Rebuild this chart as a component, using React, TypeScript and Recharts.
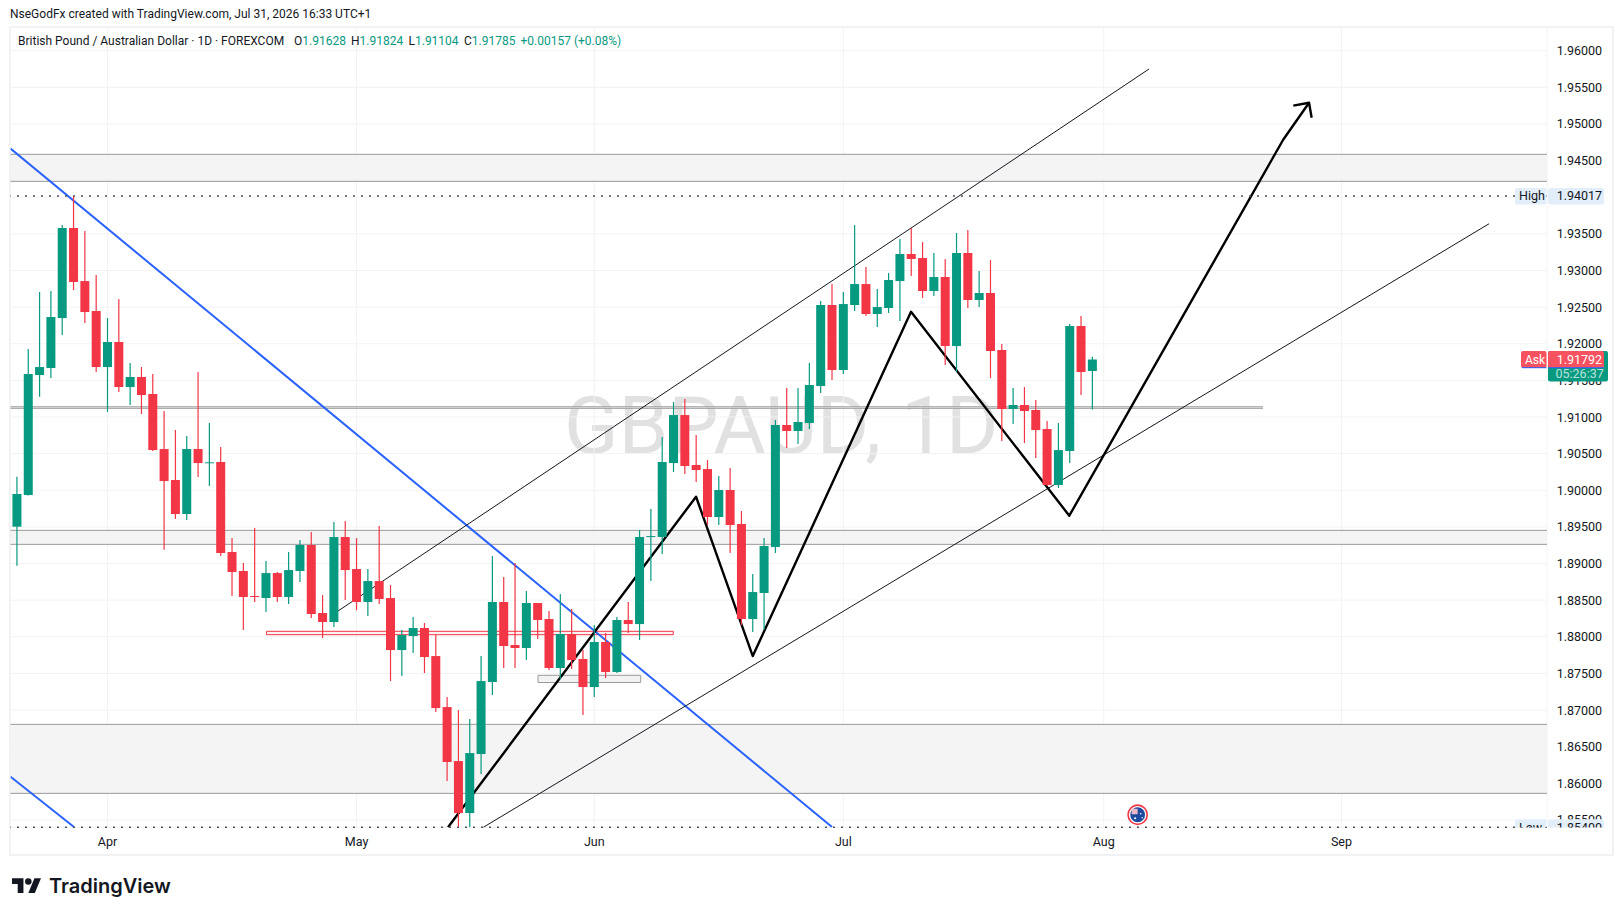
import React from 'react';
import {
  ComposedChart,
  Bar,
  Line,
  XAxis,
  YAxis,
  CartesianGrid,
  ReferenceArea,
  ReferenceLine,
  ReferenceDot,
} from 'recharts';

// daily GBPAUD candles, first one is 8 sessions before Apr 1 (session 0)
const firstSession = -8;
const opens = [
  1.89503, 1.89935, 1.91573, 1.91669, 1.92351, 1.9358, 1.92856, 1.92447, 1.91682, 1.92024, 1.91409, 1.91546,
  1.91314, 1.90563, 1.9014, 1.89676, 1.90563, 1.90375, 1.90386, 1.89157, 1.88898, 1.88557, 1.88529, 1.8887,
  1.88543, 1.88898, 1.89253, 1.88325, 1.88202, 1.89362, 1.88925, 1.88475, 1.88761, 1.88529, 1.87819, 1.8801,
  1.8812, 1.87737, 1.87041, 1.86304, 1.85594, 1.864, 1.87383, 1.88475, 1.87888, 1.87847, 1.88461, 1.88243,
  1.87574, 1.88038, 1.87697, 1.87314, 1.87929, 1.87519, 1.88229, 1.88174, 1.89368, 1.89362, 1.90372, 1.91027,
  1.90345, 1.9029, 1.89635, 1.90004, 1.8954, 1.88243, 1.88598, 1.89226, 1.90891, 1.90809, 1.90918, 1.91423,
  1.92529, 1.91642, 1.92529, 1.92815, 1.92406, 1.92488, 1.92856, 1.93225, 1.9317, 1.9272, 1.92911, 1.91969,
  1.93239, 1.92597, 1.92693, 1.91915, 1.91109, 1.91164, 1.91096, 1.90836, 1.90072, 1.90536, 1.92242, 1.91628,
];
const highs = [
  1.90185, 1.91928, 1.92706, 1.9272, 1.93621, 1.94017, 1.93539, 1.92938, 1.92351, 1.92611, 1.91737, 1.91682,
  1.91587, 1.91082, 1.90822, 1.90741, 1.91614, 1.90918, 1.90591, 1.89348, 1.89007, 1.89485, 1.89034, 1.88884,
  1.89157, 1.89321, 1.89429, 1.8857, 1.89567, 1.89581, 1.89348, 1.88925, 1.89512, 1.88707, 1.88093, 1.8827,
  1.88188, 1.88024, 1.87178, 1.87, 1.86878, 1.87737, 1.89103, 1.88816, 1.89007, 1.88625, 1.88461, 1.88352,
  1.88584, 1.88379, 1.8782, 1.88161, 1.88052, 1.8827, 1.88475, 1.89458, 1.89744, 1.90727, 1.91205, 1.91246,
  1.90754, 1.90413, 1.90195, 1.90304, 1.89717, 1.88857, 1.89348, 1.90959, 1.91396, 1.91396, 1.91737, 1.92583,
  1.92815, 1.92706, 1.93621, 1.93048, 1.92747, 1.92965, 1.9343, 1.9358, 1.93389, 1.93239, 1.93157, 1.93512,
  1.93553, 1.92993, 1.93143, 1.91996, 1.91396, 1.91409, 1.91232, 1.90946, 1.90918, 1.9227, 1.92379, 1.91824,
];
const lows = [
  1.8897, 1.8993, 1.91277, 1.91532, 1.92119, 1.92734, 1.92283, 1.91614, 1.91068, 1.91341, 1.91164, 1.91041,
  1.90536, 1.89189, 1.89608, 1.89594, 1.9018, 1.90058, 1.89103, 1.88557, 1.88092, 1.88475, 1.88338, 1.88475,
  1.88447, 1.88748, 1.88256, 1.87983, 1.88134, 1.88502, 1.88365, 1.88284, 1.88447, 1.87396, 1.87465, 1.87778,
  1.87505, 1.86973, 1.86031, 1.8541, 1.854, 1.86127, 1.87205, 1.87574, 1.87574, 1.87683, 1.8797, 1.87547,
  1.87424, 1.8756, 1.86932, 1.87178, 1.87437, 1.87505, 1.88052, 1.87956, 1.88761, 1.8913, 1.90249, 1.90222,
  1.90112, 1.89526, 1.89526, 1.89144, 1.88161, 1.88065, 1.88093, 1.89144, 1.90577, 1.90631, 1.90836, 1.91328,
  1.91505, 1.91587, 1.92447, 1.92379, 1.92228, 1.9242, 1.9231, 1.92925, 1.92624, 1.92652, 1.9171, 1.91614,
  1.92488, 1.92501, 1.91532, 1.90672, 1.90904, 1.90645, 1.9044, 1.90058, 1.90031, 1.90372, 1.913, 1.91104,
];
const closes = [
  1.89949, 1.91587, 1.91682, 1.92365, 1.9358, 1.92843, 1.92433, 1.91682, 1.92024, 1.91409, 1.91546, 1.913,
  1.90549, 1.90126, 1.89676, 1.90563, 1.90372, 1.90382, 1.89144, 1.88884, 1.88543, 1.8855, 1.8887, 1.88543,
  1.88911, 1.89253, 1.88311, 1.88202, 1.89362, 1.88911, 1.88475, 1.88761, 1.88516, 1.87819, 1.88024, 1.8812,
  1.87724, 1.87027, 1.86291, 1.85594, 1.86413, 1.87396, 1.88475, 1.87874, 1.87847, 1.88461, 1.88229, 1.87574,
  1.88038, 1.87683, 1.87314, 1.87929, 1.87519, 1.88229, 1.88174, 1.89362, 1.89375, 1.90386, 1.91027, 1.90331,
  1.90277, 1.89635, 1.90004, 1.89526, 1.88243, 1.88611, 1.89239, 1.90891, 1.90809, 1.90932, 1.91437, 1.92529,
  1.91642, 1.92542, 1.92815, 1.92406, 1.92501, 1.9287, 1.93225, 1.93157, 1.9272, 1.92911, 1.91969, 1.93239,
  1.92597, 1.92693, 1.91901, 1.91109, 1.91164, 1.91082, 1.90822, 1.90072, 1.90549, 1.92242, 1.91614, 1.91785,
];

const candles = opens.map((open, i) => ({
  idx: firstSession + i,
  open,
  high: highs[i],
  low: lows[i],
  close: closes[i],
}));

const priceTicks = [
  1.96, 1.955, 1.95, 1.945, 1.94, 1.935, 1.93, 1.925, 1.92, 1.915, 1.91, 1.905, 1.9, 1.895, 1.89, 1.885, 1.88, 1.875,
  1.87, 1.865, 1.86, 1.855,
];
const monthTicks = [0, 22, 43, 65, 88, 109];
const monthLabels = ['Apr', 'May', 'Jun', 'Jul', 'Aug', 'Sep'];

const highPrice = 1.94017;
const lowPrice = 1.854;
const askPrice = 1.91792;

// visible range of the pane
const sessionRange: [number, number] = [-8.569, 127.16];
const priceRange: [number, number] = [1.85397, 1.96317];

// drawings, as [session, price] anchors
const blueTrend = [[-8.569, 1.94665], [64.0, 1.85403]];
const blueTrendLower = [[-8.569, 1.8609], [-2.96, 1.85404]];
const channelUpper = [[20.1, 1.88325], [92.0, 1.9575]];
const channelLower = [[33.2, 1.854], [122.04, 1.93638]];
const zigzag = [
  [30.08, 1.854], [51.99, 1.89912], [57.0, 1.87737], [70.98, 1.92437], [84.96, 1.89653], [103.84, 1.94781], [106.14, 1.9529],
];
const arrowHead = [[104.75, 1.9525], [106.14, 1.9529], [106.37, 1.95085]];

const toPoints = (rows: number[][]) => rows.map(([idx, price]) => ({ idx, price }));

const grayZones = [
  { top: 1.94586, bottom: 1.94217, end: sessionRange[1] },
  { top: 1.9114, bottom: 1.91119, end: 102.08 },
  { top: 1.89453, bottom: 1.89262, end: sessionRange[1] },
  { top: 1.86805, bottom: 1.85863, end: sessionRange[1] },
];

const UI_FONT = 'Roboto, sans-serif';
const UI_SIZE = 12.5;
const HEAD_SIZE = 12;
const GREEN = '#089981';
const RED = '#f23645';
const TEXT = '#131722';
const CHART_MARGIN = { top: 27.5, right: 11, bottom: 60.5, left: 10.5 };

const Candle = (props: any) => {
  const { x, y, width, height, payload } = props;
  const { open, close, high, low } = payload;
  const perPrice = height / (high - low);
  const bodyTop = y + (high - Math.max(open, close)) * perPrice;
  const bodyHeight = Math.max(Math.abs(open - close) * perPrice, 1);
  const color = close >= open ? GREEN : RED;
  const cx = x + width / 2;
  return (
    <g>
      <line x1={cx} x2={cx} y1={y} y2={y + height} stroke={color} strokeWidth={1.2} />
      <rect x={cx - 4.5} y={bodyTop} width={9} height={bodyHeight} fill={color} />
    </g>
  );
};

// zones only show their top and bottom edges, the sides run off the pane
const GrayZone = ({ x, y, width, height }: any) => (
  <g>
    <rect x={x} y={y} width={width} height={height} fill="#f2f2f2" fillOpacity={0.85} />
    <line x1={x} x2={x + width} y1={y} y2={y} stroke="#9a9a9a" />
    <line x1={x} x2={x + width} y1={y + height} y2={y + height} stroke="#9a9a9a" />
  </g>
);

const PriceTick = (props: any) => {
  const { x, y, payload } = props;
  // the High tag sits right on top of this one
  if (payload.value === 1.94) return null;
  return (
    <text x={x} y={y} dy={4.5} fontFamily={UI_FONT} fontSize={UI_SIZE} fill={TEXT} textAnchor="start" clipPath="url(#paneClip)">
      {payload.value.toFixed(5)}
    </text>
  );
};

const TimeTick = (props: any) => {
  const { x, y, payload } = props;
  return (
    <text x={x} y={y} dy={10} fontFamily={UI_FONT} fontSize={UI_SIZE} fill={TEXT} textAnchor="middle">
      {monthLabels[monthTicks.indexOf(payload.value)]}
    </text>
  );
};

const ExtremeTag = ({ viewBox, name, value }: any) => {
  const right = viewBox.x + viewBox.width;
  const y = viewBox.y;
  return (
    <g clipPath="url(#tagClip)">
      <rect x={right - 32} y={y - 8} width={31.5} height={16.5} rx={2} fill="#e3eefb" />
      <rect x={right + 1} y={y - 8} width={56} height={16.5} rx={2} fill="#e3eefb" />
      <text x={right - 28} y={y + 4.5} fontFamily={UI_FONT} fontSize={UI_SIZE} fill={TEXT}>{name}</text>
      <text x={right + 9.7} y={y + 4.5} fontFamily={UI_FONT} fontSize={UI_SIZE} fill={TEXT}>{value}</text>
    </g>
  );
};

const AskTag = ({ viewBox }: any) => {
  const right = viewBox.x + viewBox.width;
  const y = viewBox.y;
  return (
    <g>
      <rect x={right + 1} y={y - 8} width={60} height={30.5} rx={2} fill={GREEN} />
      <rect x={right - 26} y={y - 8} width={25.5} height={17} rx={2} fill="#f7525f" />
      <rect x={right + 1} y={y - 8} width={56} height={17} rx={2} fill="#f7525f" />
      <rect x={right - 25} y={y + 8.2} width={24.5} height={1} fill="#2962ff" />
      <rect x={right + 1} y={y + 8.2} width={56} height={1} fill="#2962ff" />
      <text x={right - 22} y={y + 4.5} fontFamily={UI_FONT} fontSize={12} fill="#fff">Ask</text>
      <text x={right + 9.7} y={y + 4.5} fontFamily={UI_FONT} fontSize={UI_SIZE} fill="#fff">{askPrice.toFixed(5)}</text>
      <text x={right + 8.5} y={y + 19} fontFamily={UI_FONT} fontSize={UI_SIZE} fill="#b9e3da">05:26:37</text>
    </g>
  );
};

const FlagEvent = ({ cx, cy }: any) => (
  <g>
    <circle cx={cx} cy={cy} r={9.6} fill="#fff" stroke={RED} strokeWidth={1.6} />
    <circle cx={cx} cy={cy} r={7.4} fill="#1c4aa0" />
    <rect x={cx - 6} y={cy - 6} width={6} height={5.5} fill="#e9b8c4" />
    <circle cx={cx + 3} cy={cy - 1} r={0.8} fill="#fff" />
    <circle cx={cx + 4.5} cy={cy + 3} r={0.7} fill="#fff" />
    <circle cx={cx - 2.5} cy={cy + 3.5} r={1.1} fill="#fff" />
  </g>
);

const legendStyle: React.CSSProperties = {
  position: 'absolute',
  top: 33,
  fontFamily: UI_FONT,
  fontSize: HEAD_SIZE,
  lineHeight: '17px',
  whiteSpace: 'nowrap',
  color: TEXT,
};

const LegendValue = ({ left, tag, value }: { left: number; tag: string; value: string }) => (
  <div style={{ ...legendStyle, left }}>
    {tag}
    <span style={{ color: GREEN }}>{value}</span>
  </div>
);

const drawLine = (key: string, rows: number[][], stroke: string, strokeWidth: number) => (
  <Line
    key={key}
    data={toPoints(rows)}
    dataKey="price"
    stroke={stroke}
    strokeWidth={strokeWidth}
    strokeLinejoin="round"
    type="linear"
    dot={false}
    activeDot={false}
    legendType="none"
    isAnimationActive={false}
    zIndex={250}
  />
);

export default function App() {
  return (
    <div style={{ position: 'absolute', left: 0, top: 0, width: 1623, height: 916, background: '#fff', overflow: 'hidden' }}>
      <div style={{ position: 'absolute', left: 10, top: 6, fontFamily: UI_FONT, fontSize: HEAD_SIZE, lineHeight: '17px', color: TEXT, whiteSpace: 'nowrap' }}>
        NseGodFx created with TradingView.com, Jul 31, 2026 16:33 UTC+1
      </div>
      <div style={{ position: 'absolute', left: 9, top: 26, width: 1605, height: 830, boxSizing: 'border-box', border: '2px solid #f1f2f4' }} />
      <div style={{ position: 'absolute', left: 564, top: 386, fontFamily: 'Roboto, sans-serif', fontSize: 80, lineHeight: '80px', color: '#e1e1e1', whiteSpace: 'nowrap' }}>
        GBPAUD, 1D
      </div>

      <ComposedChart
        width={1623}
        height={916}
        data={candles}
        margin={CHART_MARGIN}
        style={{ position: 'absolute', left: 0, top: 0 }}
      >
        <defs>
          <clipPath id="paneClip">
            <rect x={1450} y={0} width={173} height={827.5} />
          </clipPath>
        </defs>
        <CartesianGrid stroke="#f3f3f3" />
        <XAxis
          dataKey="idx"
          type="number"
          domain={sessionRange}
          allowDataOverflow
          ticks={monthTicks}
          interval={0}
          height={28}
          axisLine={false}
          tickLine={false}
          tick={<TimeTick />}
        />
        <YAxis
          orientation="right"
          type="number"
          domain={priceRange}
          allowDataOverflow
          ticks={priceTicks}
          interval={0}
          width={65}
          axisLine={false}
          tickLine={false}
          tickSize={0}
          tickMargin={9.7}
          tick={<PriceTick />}
        />

        {grayZones.map((zone) => (
          <ReferenceArea
            key={zone.top}
            x1={sessionRange[0]}
            x2={zone.end}
            y1={zone.bottom}
            y2={zone.top}
            shape={<GrayZone />}
          />
        ))}
        <ReferenceArea x1={14.04} x2={49.98} y1={1.88029} y2={1.88075} fill="#fde9eb" fillOpacity={0.6} stroke={RED} strokeWidth={1} />
        <ReferenceArea x1={38.03} x2={47.1} y1={1.87376} y2={1.87474} fill="#f2f2f2" fillOpacity={1} stroke="#9a9a9a" strokeWidth={1} />
        <ReferenceLine y={highPrice} stroke="#50535e" strokeWidth={1.5} strokeDasharray="2 6" />
        <ReferenceLine y={lowPrice} stroke="#50535e" strokeWidth={1.5} strokeDasharray="2 6" />

        {drawLine('blue', blueTrend, '#2962ff', 2)}
        {drawLine('blue-lower', blueTrendLower, '#2962ff', 2)}
        {drawLine('channel-upper', channelUpper, '#131722', 1)}
        {drawLine('channel-lower', channelLower, '#131722', 1)}
        {drawLine('zigzag', zigzag, '#000', 2.4)}
        {drawLine('arrow', arrowHead, '#000', 2.4)}

        <Bar
          dataKey={(d: any) => [d.low, d.high]}
          barSize={9}
          shape={<Candle />}
          isAnimationActive={false}
          legendType="none"
          zIndex={300}
        />

        <ReferenceDot x={91} y={1.85571} r={10} shape={<FlagEvent />} />
      </ComposedChart>

      {/* second, empty chart on the same scales so the price tags cover the axis labels */}
      <ComposedChart
        width={1623}
        height={916}
        data={candles}
        margin={{ top: 27.5, right: 76, bottom: 88.5, left: 10.5 }}
        style={{ position: 'absolute', left: 0, top: 0 }}
      >
        <defs>
          <clipPath id="tagClip">
            <rect x={1450} y={0} width={173} height={827.5} />
          </clipPath>
        </defs>
        <XAxis dataKey="idx" type="number" domain={sessionRange} allowDataOverflow hide />
        <YAxis type="number" domain={priceRange} allowDataOverflow hide />
        <ReferenceLine y={highPrice} stroke="none" label={<ExtremeTag name="High" value={highPrice.toFixed(5)} />} />
        <ReferenceLine y={lowPrice} stroke="none" label={<ExtremeTag name="Low" value={lowPrice.toFixed(5)} />} />
        <ReferenceLine y={askPrice} stroke="none" label={<AskTag />} />
      </ComposedChart>

      <div style={{ ...legendStyle, left: 18 }}>British Pound / Australian Dollar · 1D · FOREXCOM</div>
      <LegendValue left={294} tag="O" value="1.91628" />
      <LegendValue left={351} tag="H" value="1.91824" />
      <LegendValue left={408.5} tag="L" value="1.91104" />
      <LegendValue left={464} tag="C" value="1.91785" />
      <LegendValue left={520.5} tag="" value="+0.00157 (+0.08%)" />

      <svg width={36} height={28} viewBox="0 0 36 28" style={{ position: 'absolute', left: 12.3, top: 875, width: 29.4, height: 23 }}>
        <path d="M14 22H7V11H0V4h14v18zM28 22h-8l7.5-18h8L28 22z" fill={TEXT} />
        <circle cx={20} cy={8} r={4} fill={TEXT} />
      </svg>
      <div style={{ position: 'absolute', left: 49, top: 872, fontFamily: 'Inter, sans-serif', fontWeight: 600, fontSize: 20, lineHeight: '28px', color: TEXT, whiteSpace: 'nowrap' }}>
        TradingView
      </div>
    </div>
  );
}
